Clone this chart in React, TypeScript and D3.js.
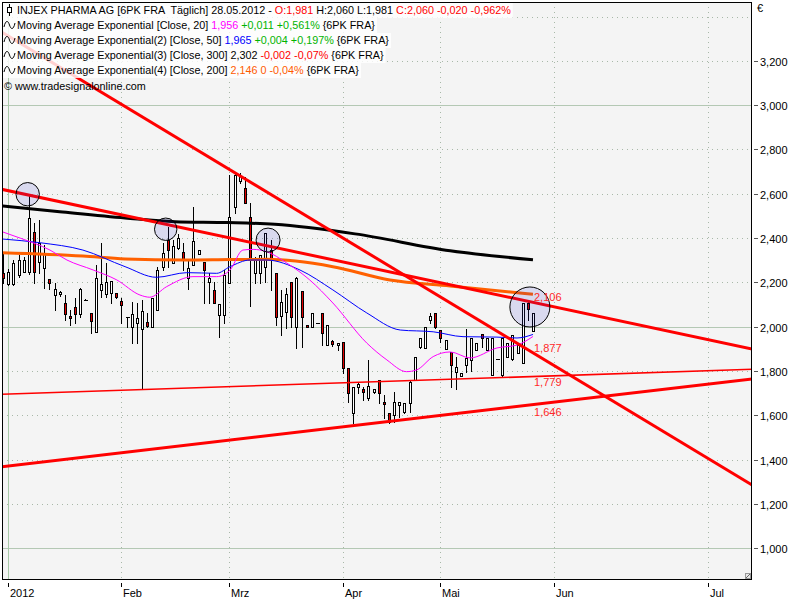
import React, { useLayoutEffect, useRef, useState } from "react";
import * as d3 from "d3";

// ---------------- data ----------------
// trading-day slots: 0 = 2 Jan 2012, -1 = 30 Dec 2011, 102 = 28 May 2012
const candleSlots = d3.range(-1, 103);
const opens = [
  2.241,
  2.193, 2.193, 2.233, 2.248, 2.248, 2.429, 2.293, 2.264, 2.214, 2.143,
  2.146, 2.106, 2.048, 2.090, 2.056, 2.121, 2.063, 1.977, 2.166, 2.146,
  2.154, 2.154, 2.117, 2.046, 2.000, 2.015, 1.988, 2.023, 1.997, 2.075,
  2.271, 2.391, 2.286, 2.354, 2.339, 2.218, 2.279, 2.327, 2.293, 2.200,
  2.166, 2.053, 2.053, 2.196, 2.542, 2.660, 2.625, 2.494, 2.241, 2.241,
  2.271, 2.346, 2.241, 2.048, 2.068, 2.200, 2.000, 2.161, 2.008, 1.997,
  2.015, 2.063, 1.917, 1.935, 1.917, 1.932, 1.812, 1.609, 1.729, 1.719,
  1.680, 1.704, 1.759, 1.661, 1.609, 1.601, 1.646, 1.616, 1.654, 1.759,
  1.910, 1.902, 2.030, 2.060, 1.985, 1.898, 1.887, 1.797, 1.777, 1.827,
  1.850, 1.895, 1.966, 1.895, 1.782, 1.853, 1.782, 1.865, 1.853, 1.880,
  1.837, 2.106, 1.981,
];
const highs = [
  2.331,
  2.262, 2.301, 2.324, 2.313, 2.589, 2.467, 2.482, 2.369, 2.214, 2.196,
  2.160, 2.143, 2.075, 2.128, 2.173, 2.123, 2.063, 2.279, 2.377, 2.286,
  2.206, 2.154, 2.128, 2.046, 2.113, 2.106, 2.121, 2.060, 2.128, 2.271,
  2.377, 2.450, 2.391, 2.420, 2.377, 2.301, 2.542, 2.346, 2.293, 2.241,
  2.203, 2.102, 2.256, 2.685, 2.693, 2.693, 2.677, 2.557, 2.316, 2.324,
  2.422, 2.391, 2.241, 2.166, 2.173, 2.200, 2.226, 2.161, 2.008, 2.063,
  2.015, 2.063, 2.006, 1.940, 1.928, 1.932, 1.812, 1.729, 1.744, 1.729,
  1.849, 1.720, 1.759, 1.692, 1.609, 1.707, 1.661, 1.654, 1.759, 1.865,
  1.948, 1.997, 2.063, 2.060, 1.985, 1.940, 1.887, 1.865, 1.790, 1.988,
  1.948, 1.928, 1.966, 1.948, 1.948, 1.853, 1.948, 1.925, 1.963, 1.917,
  2.106, 2.113, 2.060,
];
const lows = [
  2.196,
  2.188, 2.188, 2.226, 2.248, 2.240, 2.196, 2.241, 2.173, 2.170, 2.075,
  2.140, 2.030, 2.008, 2.015, 2.045, 2.119, 1.970, 1.977, 2.135, 2.135,
  2.108, 2.130, 2.015, 2.000, 1.925, 1.928, 1.719, 2.000, 1.997, 2.075,
  2.256, 2.271, 2.286, 2.350, 2.256, 2.169, 2.279, 2.327, 2.106, 2.106,
  2.106, 1.955, 2.015, 2.196, 2.512, 2.650, 2.557, 2.095, 2.196, 2.196,
  2.203, 2.166, 2.008, 1.963, 1.993, 2.000, 1.902, 1.910, 1.997, 1.997,
  2.015, 1.917, 1.917, 1.915, 1.895, 1.790, 1.661, 1.564, 1.699, 1.669,
  1.669, 1.700, 1.654, 1.586, 1.564, 1.571, 1.594, 1.609, 1.616, 1.759,
  1.902, 1.902, 2.015, 1.993, 1.932, 1.898, 1.729, 1.717, 1.777, 1.797,
  1.801, 1.895, 1.910, 1.895, 1.782, 1.853, 1.777, 1.865, 1.850, 1.880,
  1.837, 2.030, 1.981,
];
const closes = [
  2.218,
  2.248, 2.286, 2.301, 2.301, 2.489, 2.248, 2.377, 2.331, 2.196, 2.169,
  2.158, 2.056, 2.038, 2.056, 2.169, 2.121, 2.027, 2.218, 2.191, 2.203,
  2.206, 2.135, 2.098, 2.044, 2.056, 2.041, 2.072, 2.003, 2.128, 2.256,
  2.334, 2.346, 2.364, 2.399, 2.301, 2.264, 2.387, 2.346, 2.256, 2.218,
  2.106, 2.102, 2.233, 2.497, 2.685, 2.680, 2.557, 2.301, 2.301, 2.324,
  2.422, 2.301, 2.045, 2.113, 2.146, 2.045, 2.218, 2.045, 1.997, 2.063,
  2.015, 1.970, 2.006, 1.922, 1.928, 1.812, 1.699, 1.729, 1.741, 1.707,
  1.730, 1.719, 1.699, 1.651, 1.571, 1.661, 1.661, 1.654, 1.752, 1.865,
  1.948, 1.997, 2.048, 1.997, 1.948, 1.940, 1.827, 1.817, 1.790, 1.857,
  1.948, 1.928, 1.950, 1.948, 1.948, 1.853, 1.948, 1.925, 1.963, 1.917,
  2.106, 2.080, 2.060,
];

// moving averages (slot, value)
const ema20Slots = [-1.22, 2.3, 8.1, 11.4, 16.5, 21.1, 25.6, 27.5, 30.8, 35.9, 40.5, 43.1, 45.6, 47.6, 50.2, 54.1, 58.6, 63.1, 69.7, 73.6, 77.4, 79.4, 82.6, 85.9, 89.8, 95.0, 98.9, 102];
const ema20Values = [2.429, 2.400, 2.346, 2.301, 2.256, 2.211, 2.143, 2.133, 2.181, 2.226, 2.226, 2.256, 2.346, 2.349, 2.339, 2.288, 2.211, 2.107, 1.926, 1.850, 1.797, 1.805, 1.865, 1.886, 1.859, 1.904, 1.917, 1.956];
const ema50Slots = [-1.22, 6.2, 14.5, 22.7, 28.8, 34.7, 40.5, 43.1, 47.0, 50.2, 56.7, 63.1, 69.7, 76.2, 82.6, 88.4, 95.0, 98.9, 102];
const ema50Values = [2.396, 2.379, 2.346, 2.271, 2.223, 2.244, 2.241, 2.271, 2.301, 2.301, 2.256, 2.166, 2.062, 1.985, 1.977, 1.955, 1.953, 1.949, 1.965];
const ema200Slots = [-1.22, 14.5, 22.7, 34.4, 43.1, 50.2, 63.1, 74.2, 85.9, 102];
const ema200Values = [2.334, 2.319, 2.306, 2.301, 2.303, 2.304, 2.271, 2.211, 2.184, 2.146];
const ema300Slots = [-1.22, 10.0, 22.7, 32.4, 42.7, 51.8, 67.4, 85.9, 102];
const ema300Values = [2.545, 2.519, 2.491, 2.474, 2.470, 2.462, 2.419, 2.343, 2.302];

// trend lines (start slot/value, end slot/value)
const trendStartSlots = [-1.61, -1.61, -1.61, -1.61];
const trendStartValues = [3.335, 2.622, 1.695, 1.367];
const trendEndSlots = [144.6, 144.6, 144.6, 144.6];
const trendEndValues = [1.285, 1.899, 1.808, 1.764];
const trendWidths = [3, 3, 1.6, 3];

const trendLabelTexts = ["2,106", "1,877", "1,779", "1,646"];
const trendLabelValues = [2.106, 1.877, 1.779, 1.646];
const trendLabelDy = [-6, -5.5, 6.6, 6.6];

// marker circles (slot, value)
const circleSlots = [3.77, 30.6, 50.5, 101.4];
const circleValues = [2.598, 2.440, 2.391, 2.089];
const circleRadii = [11.7, 11.2, 12, 20];

// axes
const xTickSlots = [0, 22, 43, 65, 84, 106, 136];
const xTickLabels = ["2012", "Feb", "Mrz", "Apr", "Mai", "Jun", "Jul"];
const yGridValues = [1.0, 1.2, 1.4, 1.6, 1.8, 2.0, 2.2, 2.4, 2.6, 2.8, 3.0, 3.2, 3.4];
const yLabelValues = [1.0, 1.2, 1.4, 1.6, 1.8, 2.0, 2.2, 2.4, 2.6, 2.8, 3.0, 3.2];

// legend
const titleParts = [
  { t: "INJEX PHARMA AG [6PK FRA  Täglich] 28.05.2012 - ", c: "#000" },
  { t: "O:1,981", c: "#ff0000" },
  { t: " H:2,060 L:1,981 ", c: "#000" },
  { t: "C:2,060 -0,020 -0,962%", c: "#ff0000" },
];
const legendRows = [
  [
    { t: "Moving Average Exponential [Close, 20] ", c: "#000" },
    { t: "1,956", c: "#ff00ff" },
    { t: " +0,011 +0,561%", c: "#00b400" },
    { t: " {6PK FRA}", c: "#000" },
  ],
  [
    { t: "Moving Average Exponential(2) [Close, 50] ", c: "#000" },
    { t: "1,965", c: "#0000ff" },
    { t: " +0,004 +0,197%", c: "#00b400" },
    { t: " {6PK FRA}", c: "#000" },
  ],
  [
    { t: "Moving Average Exponential(3) [Close, 300] 2,302 ", c: "#000" },
    { t: "-0,002 -0,07%", c: "#ff0000" },
    { t: " {6PK FRA}", c: "#000" },
  ],
  [
    { t: "Moving Average Exponential(4) [Close, 200] ", c: "#000" },
    { t: "2,146 0 -0,04%", c: "#ff5a00" },
    { t: " {6PK FRA}", c: "#000" },
  ],
];
const copyright = "www.tradesignalonline.com";

// ---------------- component ----------------
const PL = 2, PR = 752, PT = 2, PB = 580;
const FONT = "'Liberation Sans', Arial, sans-serif";

const locale = d3.formatLocale({ decimal: ",", thousands: ".", grouping: [3], currency: ["", "€"] });
const fmt = locale.format(".3f");

export default function App() {
  const x = d3.scaleLinear().domain([-1.2247, 144.58]).range([PL, PR]);
  const y = d3.scaleLinear().domain([0.8564, 3.4659]).range([PB, PT]);

  const textRefs = useRef<(SVGTextElement | null)[]>([]);
  const [bgW, setBgW] = useState<number[]>([0, 0, 0, 0, 0]);
  useLayoutEffect(() => {
    setBgW(textRefs.current.map((t) => (t ? t.getComputedTextLength() : 0)));
  }, []);

  const lineGen = (slots: number[], vals: number[]) =>
    d3
      .line<number>()
      .x((_, i) => x(slots[i]))
      .y((v) => y(v))
      .curve(d3.curveMonotoneX)(vals) || "";

  const emas = [
    { s: ema300Slots, v: ema300Values, c: "#000000", w: 3 },
    { s: ema200Slots, v: ema200Values, c: "#ff6000", w: 3 },
    { s: ema50Slots, v: ema50Values, c: "#0000ff", w: 1 },
    { s: ema20Slots, v: ema20Values, c: "#ff00ff", w: 1 },
  ];

  const rowH = 15;
  const rowBase = (k: number) => 14 + k * rowH;

  return (
    <svg
      width={800}
      height={600}
      style={{ position: "absolute", left: 0, top: 0, background: "#ffffff" }}
      fontFamily={FONT}
    >
      <defs>
        <clipPath id="plotClip">
          <rect x={PL} y={PT} width={PR - PL} height={PB - PT} />
        </clipPath>
      </defs>
      <rect x={PL} y={PT} width={PR - PL} height={PB - PT} fill="#f4f4f4" />

      {/* grid */}
      <g shapeRendering="crispEdges">
        {yGridValues.map((v) => {
          const solid = Math.abs(v - Math.round(v)) < 1e-6;
          const yy = Math.round(y(v)) + 0.5;
          return (
            <line
              key={"gy" + v}
              x1={PL}
              x2={PR}
              y1={yy}
              y2={yy}
              stroke={solid ? "#b4c8b4" : "#a8b8a8"}
              strokeWidth={1}
              strokeDasharray={solid ? undefined : "1,4"}
            />
          );
        })}
        {xTickSlots.map((s, i) => {
          const xx = Math.round(x(s)) + 0.5;
          const solid = i === 0;
          return (
            <line
              key={"gx" + s}
              x1={xx}
              x2={xx}
              y1={PT}
              y2={PB}
              stroke={solid ? "#a8c8a8" : "#a8b8a8"}
              strokeDasharray={solid ? undefined : "1,4"}
            />
          );
        })}
      </g>

      <g clipPath="url(#plotClip)">
        {/* candles */}
        <g shapeRendering="crispEdges">
          {candleSlots.map((s, i) => {
            const cx = Math.round(x(s));
            const o = opens[i], h = highs[i], l = lows[i], c = closes[i];
            const top = Math.round(y(Math.max(o, c))) + 0.5;
            const bot = Math.round(y(Math.min(o, c))) + 0.5;
            const up = c >= o;
            return (
              <g key={"c" + s}>
                <line
                  x1={cx + 0.5}
                  x2={cx + 0.5}
                  y1={Math.round(y(h))}
                  y2={Math.round(y(l)) + 1}
                  stroke="#000"
                  strokeWidth={1}
                />
                {bot - top < 1 ? (
                  <line x1={cx - 1.5} x2={cx + 2.5} y1={top} y2={top} stroke="#000" strokeWidth={1} />
                ) : (
                  <rect
                    x={cx - 0.5}
                    y={top}
                    width={2}
                    height={bot - top}
                    fill={up ? "#ffffff" : "#e00000"}
                    stroke="#000"
                    strokeWidth={1}
                  />
                )}
              </g>
            );
          })}
        </g>

        {/* moving averages */}
        {emas.map((e, i) => (
          <path key={"ema" + i} d={lineGen(e.s, e.v)} fill="none" stroke={e.c} strokeWidth={e.w} />
        ))}

        {/* trend lines */}
        {trendStartSlots.map((s, i) => (
          <line
            key={"t" + i}
            x1={x(s)}
            y1={y(trendStartValues[i])}
            x2={x(trendEndSlots[i])}
            y2={y(trendEndValues[i])}
            stroke="#ff0000"
            strokeWidth={trendWidths[i]}
          />
        ))}

        {/* circles */}
        {circleSlots.map((s, i) => (
          <circle
            key={"ci" + i}
            cx={x(s)}
            cy={y(circleValues[i])}
            r={circleRadii[i]}
            fill="rgba(40,40,210,0.13)"
            stroke="#000"
            strokeWidth={1}
          />
        ))}

        {/* trend labels */}
        {trendLabelTexts.map((t, i) => (
          <text
            key={"tl" + i}
            x={x(102) + 1}
            y={y(trendLabelValues[i]) + trendLabelDy[i]}
            dominantBaseline="central"
            fontSize={11}
            fill="#ff2828"
          >
            {t}
          </text>
        ))}
      </g>

      {/* legend */}
      <g fontSize={10.8}>
        {[0, 1, 2, 3, 4].map((k) => (
          <rect
            key={"lb" + k}
            x={3}
            y={3 + k * rowH}
            width={bgW[k] ? bgW[k] + 16 : 0}
            height={rowH}
            fill="rgba(255,255,255,0.82)"
          />
        ))}
        {/* candle icon */}
        <line x1={9.5} x2={9.5} y1={4} y2={16} stroke="#000" />
        <rect x={7.5} y={7.5} width={4} height={5} fill="#fff" stroke="#000" />
        <text
          ref={(el) => {
            textRefs.current[0] = el;
          }}
          x={17}
          y={rowBase(0)}
          xmlSpace="preserve"
          style={{ whiteSpace: "pre" }}
        >
          {titleParts.map((p, j) => (
            <tspan key={j} fill={p.c} xmlSpace="preserve">
              {p.t}
            </tspan>
          ))}
        </text>
        {legendRows.map((row, k) => {
          const cy = rowBase(k + 1) - 4;
          return (
            <g key={"lr" + k}>
              <path
                d={`M4,${cy + 2} C5.5,${cy - 5} 8,${cy - 5} 9.5,${cy} S13.5,${cy + 5} 15,${cy - 2}`}
                fill="none"
                stroke="#000"
                strokeWidth={1}
              />
              <text
                ref={(el) => {
                  textRefs.current[k + 1] = el;
                }}
                x={17}
                y={rowBase(k + 1)}
                xmlSpace="preserve"
                style={{ whiteSpace: "pre" }}
              >
                {row.map((p, j) => (
                  <tspan key={j} fill={p.c}>
                    {p.t}
                  </tspan>
                ))}
              </text>
            </g>
          );
        })}
        <text x={4} y={rowBase(5) + 1} fill="#000">
          {"© " + copyright}
        </text>
      </g>

      {/* frame */}
      <rect
        x={PL + 0.5}
        y={PT + 0.5}
        width={PR - PL - 1}
        height={PB - PT - 1}
        fill="none"
        stroke="#000"
        strokeWidth={1}
        shapeRendering="crispEdges"
      />
      <g shapeRendering="crispEdges">
        <rect x={745.5} y={573.5} width={5} height={5} fill="#e8e8e8" stroke="#999" />
        <line x1={746} y1={578} x2={750} y2={574} stroke="#666" />
      </g>

      {/* y axis */}
      <g fontSize={11} shapeRendering="crispEdges">
        {yLabelValues.map((v) => {
          const yy = Math.round(y(v)) + 0.5;
          return (
            <g key={"yl" + v}>
              <line x1={754} x2={758} y1={yy} y2={yy} stroke="#555" />
              <text x={760} y={yy} dominantBaseline="central" fill="#000">
                {fmt(v)}
              </text>
            </g>
          );
        })}
        <text x={757} y={8} dominantBaseline="central" fontSize={11} fill="#000">
          €
        </text>
      </g>

      {/* x axis */}
      <g fontSize={11}>
        {xTickSlots.map((s, i) => {
          const xx = Math.round(x(s)) + 0.5;
          return (
            <g key={"xl" + s}>
              <line x1={xx} x2={xx} y1={583} y2={587} stroke="#000" shapeRendering="crispEdges" />
              <text x={xx + 1.5} y={597} fill="#000">
                {xTickLabels[i]}
              </text>
            </g>
          );
        })}
      </g>
    </svg>
  );
}
